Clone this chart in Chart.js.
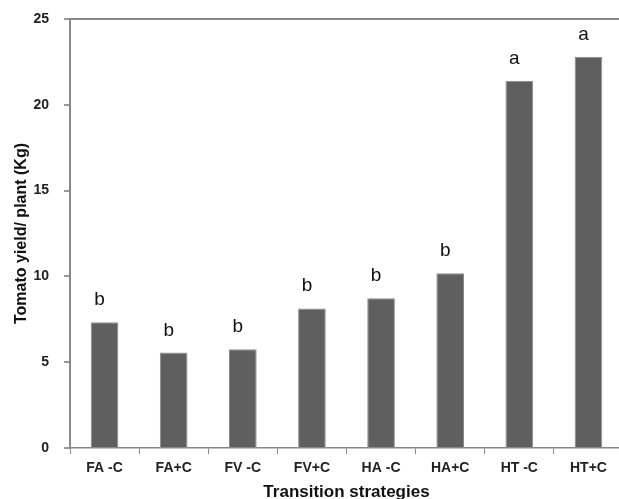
<!DOCTYPE html>
<html>
<head>
<meta charset="utf-8">
<script src="https://cdn.jsdelivr.net/npm/chart.js@4/dist/chart.umd.min.js"></script>
<style>
  html, body { margin: 0; padding: 0; background: #fff; overflow: hidden; }
  #wrap { width: 623px; height: 499px; }
</style>
</head>
<body>
<div id="wrap"><canvas id="yieldChart"></canvas></div>
<script>
const strategies = ['FA -C', 'FA+C', 'FV -C', 'FV+C', 'HA -C', 'HA+C', 'HT -C', 'HT+C'];
const yieldPerPlant = [7.33, 5.56, 5.76, 8.13, 8.72, 10.18, 21.4, 22.8];
const letters = ['b', 'b', 'b', 'b', 'b', 'b', 'a', 'a'];
const yTicks = [0, 5, 10, 15, 20, 25];

// significance letters above the bars
const letterPlugin = {
    id: 'letters',
    afterDatasetsDraw(chart) {
        const ctx = chart.ctx;
        const meta = chart.getDatasetMeta(0);
        ctx.save();
        ctx.font = '19px "Liberation Sans", Arial, sans-serif';
        ctx.fillStyle = '#111';
        ctx.textAlign = 'center';
        ctx.textBaseline = 'alphabetic';
        meta.data.forEach((bar, i) => {
            ctx.fillText(letters[i], bar.x - 5, bar.y - 17);
        });
        ctx.restore();
    }
};

const tickFont = { family: '"Liberation Sans", Arial, sans-serif', size: 14, weight: 'bold' };

const ctx = document.getElementById('yieldChart').getContext('2d');
new Chart(ctx, {
    type: 'bar',
    data: {
        labels: strategies,
        datasets: [{
            data: yieldPerPlant,
            backgroundColor: '#5f5f5f',
            borderColor: '#8c8c8c',
            borderWidth: 1,
            categoryPercentage: 1,
            barPercentage: 0.4
        }]
    },
    options: {
        responsive: true,
        maintainAspectRatio: false,
        animation: false,
        layout: { padding: { top: 19, left: 0, right: 0, bottom: 0 } },
        plugins: {
            legend: { display: false },
            tooltip: { enabled: false }
        },
        scales: {
            x: {
                grid: {
                    offset: true,
                    drawOnChartArea: false,
                    tickLength: 6,
                    tickColor: '#888',
                    tickWidth: 1
                },
                border: { display: true, color: '#888', width: 1.5 },
                ticks: {
                    color: '#222',
                    padding: 6,
                    maxRotation: 0,
                    font: tickFont
                },
                title: {
                    display: true,
                    text: 'Transition strategies',
                    color: '#111',
                    padding: { top: 4, bottom: -4 },
                    font: { family: '"Liberation Sans", Arial, sans-serif', size: 17, weight: 'bold' }
                },
                afterFit(scale) { scale.height = 51; }
            },
            y: {
                min: 0,
                max: 25,
                afterBuildTicks(scale) { scale.ticks = yTicks.map(v => ({ value: v })); },
                grid: {
                    color: c => (c.tick && c.tick.value === 25 ? '#888' : 'rgba(0,0,0,0)'),
                    lineWidth: 2,
                    tickColor: '#777',
                    tickLength: 6,
                    tickWidth: 1.5
                },
                border: { display: true, color: '#888', width: 2 },
                ticks: {
                    color: '#222',
                    padding: 15,
                    font: tickFont
                },
                title: {
                    display: true,
                    text: 'Tomato yield/ plant (Kg)',
                    color: '#111',
                    padding: { top: 12, bottom: 0 },
                    font: { family: '"Liberation Sans", Arial, sans-serif', size: 16, weight: 'bold' }
                },
                afterFit(scale) {
                    scale.width = 70;
                    scale.paddingTop = 0;
                    scale.paddingBottom = 0;
                }
            }
        }
    },
    plugins: [letterPlugin]
});
</script>
</body>
</html>
